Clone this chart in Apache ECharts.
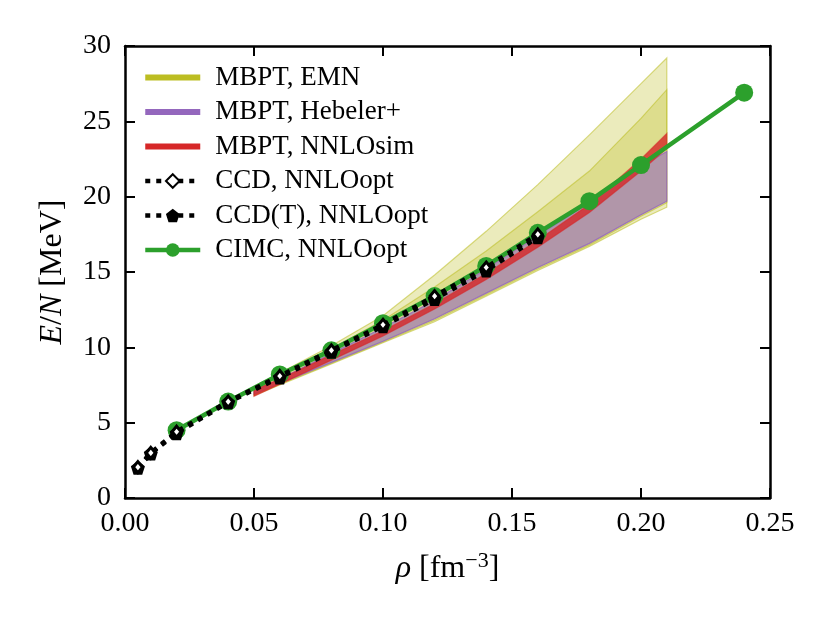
<!DOCTYPE html>
<html>
<head>
<meta charset="utf-8">
<script src="https://cdn.jsdelivr.net/npm/echarts@6/dist/echarts.min.js"></script>
<style>
  html, body { margin: 0; padding: 0; background: #fff; }
  #chart { width: 831px; height: 623px; }
</style>
</head>
<body>
<div id="chart"></div>
<script>
// density grids (fm^-3)
const cimcRho = [0.02, 0.04, 0.06, 0.08, 0.10, 0.12, 0.14, 0.16, 0.18, 0.20, 0.24];
const ccdRho = [0.005, 0.01, 0.02, 0.04, 0.06, 0.08, 0.10, 0.12, 0.14, 0.16];
const bandRho = [0.05, 0.06, 0.08, 0.10, 0.12, 0.14, 0.16, 0.18, 0.20, 0.21];

// E/N values (MeV)
const cimc = [4.5, 6.4, 8.2, 9.8, 11.6, 13.4, 15.4, 17.6, 19.7, 22.1, 26.9];
const ccd = [2.05, 3.0, 4.4, 6.4, 8.1, 9.8, 11.5, 13.4, 15.3, 17.5];
const ccdT = [2.0, 2.95, 4.3, 6.35, 8.0, 9.7, 11.4, 13.2, 15.1, 17.3];

// MBPT bands (lower / upper)
const emnALow = [6.8, 7.5, 8.9, 10.3, 11.7, 13.4, 15.1, 16.7, 18.5, 19.3];
const emnAHigh = [7.4, 8.3, 10.1, 12.1, 14.8, 17.7, 20.8, 24.1, 27.5, 29.2];
const emnBLow = [6.85, 7.55, 8.95, 10.35, 11.8, 13.5, 15.2, 16.8, 18.7, 19.6];
const emnBHigh = [7.3, 8.2, 9.9, 11.8, 14.0, 16.4, 19.0, 21.7, 25.2, 27.1];
const hebLow = [6.9, 7.6, 9.0, 10.4, 11.9, 13.6, 15.3, 16.9, 18.8, 19.7];
const hebHigh = [7.1, 7.9, 9.6, 11.3, 13.1, 15.2, 17.4, 19.6, 22.0, 23.0];
const nnloLow = [6.75, 7.55, 9.15, 10.75, 12.55, 14.5, 16.65, 18.95, 21.7, 23.2];
const nnloHigh = [7.2, 7.9, 9.5, 11.1, 12.9, 14.9, 17.1, 19.5, 22.5, 24.2];

const FONT = 'Liberation Serif';
const olive = '#bcbd22', purple = '#9467bd', red = '#d62728', green = '#2ca02c';

const pairs = (xs, ys) => xs.map((x, i) => [x, ys[i]]);

// filled band between lo and hi, drawn as one polygon through the axes
function band(name, color, lo, hi, opacity, edge) {
  const data = bandRho.map((x, i) => [x, lo[i], hi[i]]);
  return {
    name: name, type: 'custom', data: data, z: 1, silent: true, clip: true,
    encode: { x: 0, y: [1, 2] },
    itemStyle: { color: color },
    renderItem: function (params, api) {
      if (params.dataIndex !== 0) return;
      const top = [], bottom = [];
      for (let i = 0; i < data.length; i++) {
        top.push(api.coord([api.value(0, i), api.value(2, i)]));
        bottom.push(api.coord([api.value(0, i), api.value(1, i)]));
      }
      const pts = top.concat(bottom.reverse());
      return {
        type: 'polygon',
        shape: { points: pts },
        style: { fill: echarts.color.modifyAlpha(color, opacity),
          stroke: echarts.color.modifyAlpha(color, edge), lineWidth: 1.2 }
      };
    }
  };
}

const pentagon = 'path://M0,-1L0.951,-0.309L0.588,0.809L-0.588,0.809L-0.951,-0.309Z';
const bar = 'path://M0 0H55V6H0Z';

const axisCommon = {
  type: 'value',
  axisLine: { show: true, onZero: false, lineStyle: { color: '#000', width: 2.5 } },
  axisTick: { show: true, inside: true, length: 10, lineStyle: { color: '#000', width: 2 } },
  splitLine: { show: false }
};

const chart = echarts.init(document.getElementById('chart'));

const option = {
  animation: false,
  backgroundColor: '#fff',
  grid: { left: 125, right: 61, top: 46, bottom: 125 },
  legend: {
    left: 143, top: 64, orient: 'vertical', padding: 0,
    itemWidth: 55, itemHeight: 17, itemGap: 7.5,
    lineStyle: { width: 4.5 },
    textStyle: { fontFamily: FONT, fontSize: 27, lineHeight: 26, color: '#000', padding: [0, 0, 0, 10] },
    data: [
      { name: 'MBPT, EMN', icon: bar },
      { name: 'MBPT, Hebeler+', icon: bar },
      { name: 'MBPT, NNLOsim', icon: bar },
      'CCD, NNLOopt', 'CCD(T), NNLOopt', 'CIMC, NNLOopt'
    ],
    selectedMode: false
  },
  xAxis: [
    Object.assign({}, axisCommon, {
      min: 0, max: 0.25, interval: 0.05, position: 'bottom',
      axisLabel: { fontFamily: FONT, fontSize: 28, color: '#000', margin: 12,
        formatter: v => v.toFixed(2) },
      name: '{i|ρ} [fm{sup|−3}]', nameLocation: 'middle', nameGap: 52,
      nameTextStyle: { fontFamily: FONT, fontSize: 32, color: '#000',
        rich: {
          i: { fontFamily: FONT, fontStyle: 'italic', fontSize: 32 },
          sup: { fontFamily: FONT, fontSize: 22, padding: [0, 0, 16, 0] }
        } }
    }),
    Object.assign({}, axisCommon, {
      min: 0, max: 0.25, interval: 0.05, position: 'top',
      axisLabel: { show: false }
    })
  ],
  yAxis: [
    Object.assign({}, axisCommon, {
      min: 0, max: 30, interval: 5, position: 'left',
      axisLabel: { fontFamily: FONT, fontSize: 28, color: '#000', margin: 14 },
      name: '{i|E}/{i|N} [MeV]', nameLocation: 'middle', nameGap: 56,
      nameTextStyle: { fontFamily: FONT, fontSize: 32, color: '#000',
        rich: { i: { fontFamily: FONT, fontStyle: 'italic', fontSize: 32 } } }
    }),
    Object.assign({}, axisCommon, {
      min: 0, max: 30, interval: 5, position: 'right',
      axisLabel: { show: false }
    })
  ],
  series: [
    band('MBPT, EMN', olive, emnALow, emnAHigh, 0.3, 0.55),
    band('emnB', olive, emnBLow, emnBHigh, 0.3, 0.55),
    band('MBPT, Hebeler+', purple, hebLow, hebHigh, 0.6, 0.85),
    band('MBPT, NNLOsim', red, nnloLow, nnloHigh, 0.8, 0.6),
    {
      name: 'CIMC, NNLOopt', type: 'line', data: pairs(cimcRho, cimc), z: 3,
      symbol: 'circle', symbolSize: 18, color: green,
      lineStyle: { color: green, width: 4.5 },
      itemStyle: { color: green }
    },
    {
      name: 'CCD(T), NNLOopt', type: 'line', data: pairs(ccdRho, ccdT), z: 4,
      symbol: pentagon, symbolSize: 14, color: '#000',
      lineStyle: { color: '#000', width: 4.5, type: [5, 6] },
      itemStyle: { color: '#000' }
    },
    {
      name: 'CCD, NNLOopt', type: 'line', data: pairs(ccdRho, ccd), z: 5,
      symbol: 'diamond', symbolSize: [9, 11], color: '#000',
      lineStyle: { color: '#000', width: 4.5, type: [5, 6] },
      itemStyle: { color: '#fff', borderColor: '#000', borderWidth: 3 }
    }
  ]
};

chart.setOption(option);
</script>
</body>
</html>
